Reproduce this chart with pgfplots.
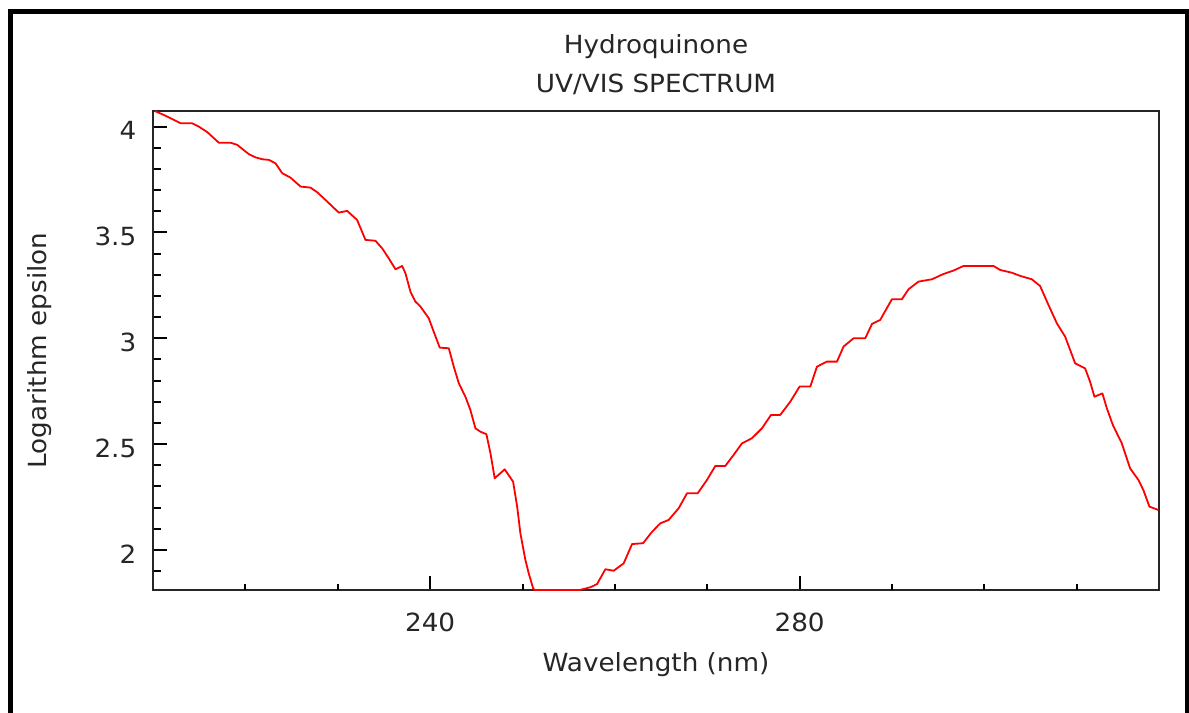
\documentclass[border=0pt]{standalone}
\usepackage{fontspec}
\setmainfont{DejaVu Sans}[FakeStretch=1.05]
\usepackage{pgfplots}
\pgfplotsset{compat=1.18}
\begin{document}
\fontsize{12.5bp}{18.7bp}\selectfont
\begin{tikzpicture}
\path[use as bounding box] (0,0) rectangle (594.5bp,356.5bp);
\fill[white] (0,0) rectangle (594.5bp,356.5bp);
\draw[black, line width=2.5bp] (5.4bp,-10bp) -- (5.4bp,350.65bp) -- (593.5bp,350.65bp) -- (593.5bp,-10bp);
\begin{axis}[
  at={(76.5bp,61.5bp)}, anchor=south west,
  scale only axis, width=503bp, height=239.5bp,
  xmin=210, xmax=318.9, ymin=1.811, ymax=4.074,
  clip=false,
  axis line style={black!85, line width=1bp},
  tick pos=left, tick align=inside,
  tick style={black, line width=1bp},
  major tick length=7bp, minor tick length=4.25bp,
  xtick={240,280},
  extra x ticks={220,230,250,260,270,290,300,310},
  extra x tick labels={},
  extra x tick style={major tick length=3bp},
  ytick={2,2.5,3,3.5,4},
  minor ytick={1.9,2.1,2.2,2.3,2.4,2.6,2.7,2.8,2.9,3.1,3.2,3.3,3.4,3.6,3.7,3.8,3.9},
  /pgf/number format/assume math mode=true,
  ticklabel style={font=\fontsize{12.5bp}{15bp}\selectfont, inner sep=0pt, text=black!85},
  yticklabel style={anchor=east, xshift=-8.15bp, yshift=-2bp},
  xticklabel style={anchor=north, yshift=-11.5bp},
  title={Hydroquinone\\UV/VIS SPECTRUM},
  title style={at={(axis description cs:0.5,1.0132)}, anchor=base, align=center, inner sep=0pt, font=\fontsize{12.5bp}{19.5bp}\selectfont, text=black!85},
  xlabel={Wavelength (nm)},
  xlabel style={at={(axis description cs:0.5,-0.17015)}, anchor=base, inner sep=0pt, text=black!85},
  ylabel={Logarithm epsilon},
  ylabel style={at={(axis description cs:-0.10537,0.5)}, anchor=base, inner sep=0pt, text=black!85},
]
\addplot[red, line width=0.9bp, line join=round] coordinates {
(210.2,4.074) (211.18,4.055) (211.90,4.040) (212.99,4.016) (214.25,4.016)
(214.97,4.000) (215.88,3.974) (217.13,3.924) (218.40,3.924) (219.12,3.914)
(220.38,3.870) (221.10,3.855) (221.83,3.846) (222.54,3.843) (223.26,3.827)
(223.99,3.780) (224.89,3.759) (225.97,3.717) (227.05,3.712) (227.78,3.690)
(228.86,3.646) (230.11,3.594) (231.02,3.602) (232.10,3.559) (233.00,3.465)
(234.08,3.461) (234.81,3.425) (235.52,3.378) (236.25,3.326) (236.97,3.342)
(237.33,3.307) (237.87,3.220) (238.41,3.173) (238.95,3.150) (239.85,3.095)
(240.39,3.031) (241.04,2.956) (242.02,2.953) (242.56,2.866) (243.10,2.788)
(243.82,2.724) (244.36,2.661) (244.90,2.575) (245.44,2.559) (246.09,2.547)
(246.53,2.457) (246.99,2.339) (248.07,2.381) (248.98,2.323) (249.42,2.205)
(249.77,2.079) (250.31,1.953) (250.67,1.890) (251.15,1.819) (251.3,1.811)
(256.2,1.811) (256.45,1.814) (257.35,1.824) (258.07,1.839) (258.97,1.909)
(259.87,1.902) (260.95,1.937) (261.86,2.028) (263.05,2.032) (264.02,2.086)
(264.92,2.126) (265.82,2.142) (266.90,2.197) (267.81,2.268) (268.96,2.268)
(269.97,2.331) (270.87,2.397) (271.95,2.397) (272.85,2.449) (273.76,2.504)
(274.84,2.528) (275.92,2.575) (276.90,2.638) (277.90,2.638) (278.99,2.701)
(279.99,2.772) (281.15,2.772) (281.87,2.866) (282.95,2.890) (284.04,2.890)
(284.75,2.961) (285.83,3.000) (287.10,3.000) (287.83,3.068) (288.72,3.087)
(289.99,3.185) (291.07,3.185) (291.79,3.232) (292.87,3.268) (294.32,3.279)
(295.57,3.304) (296.65,3.320) (297.74,3.342) (300.98,3.342) (301.70,3.323)
(302.97,3.310) (303.87,3.295) (305.13,3.279) (306.03,3.247) (306.93,3.158)
(307.84,3.071) (308.74,3.008) (309.82,2.882) (310.90,2.858) (311.44,2.795)
(311.91,2.724) (312.77,2.740) (313.25,2.670) (313.90,2.591) (314.87,2.504)
(315.77,2.386) (316.67,2.331) (317.21,2.283) (317.86,2.205) (318.83,2.189)
};
\end{axis}
\end{tikzpicture}
\end{document}
